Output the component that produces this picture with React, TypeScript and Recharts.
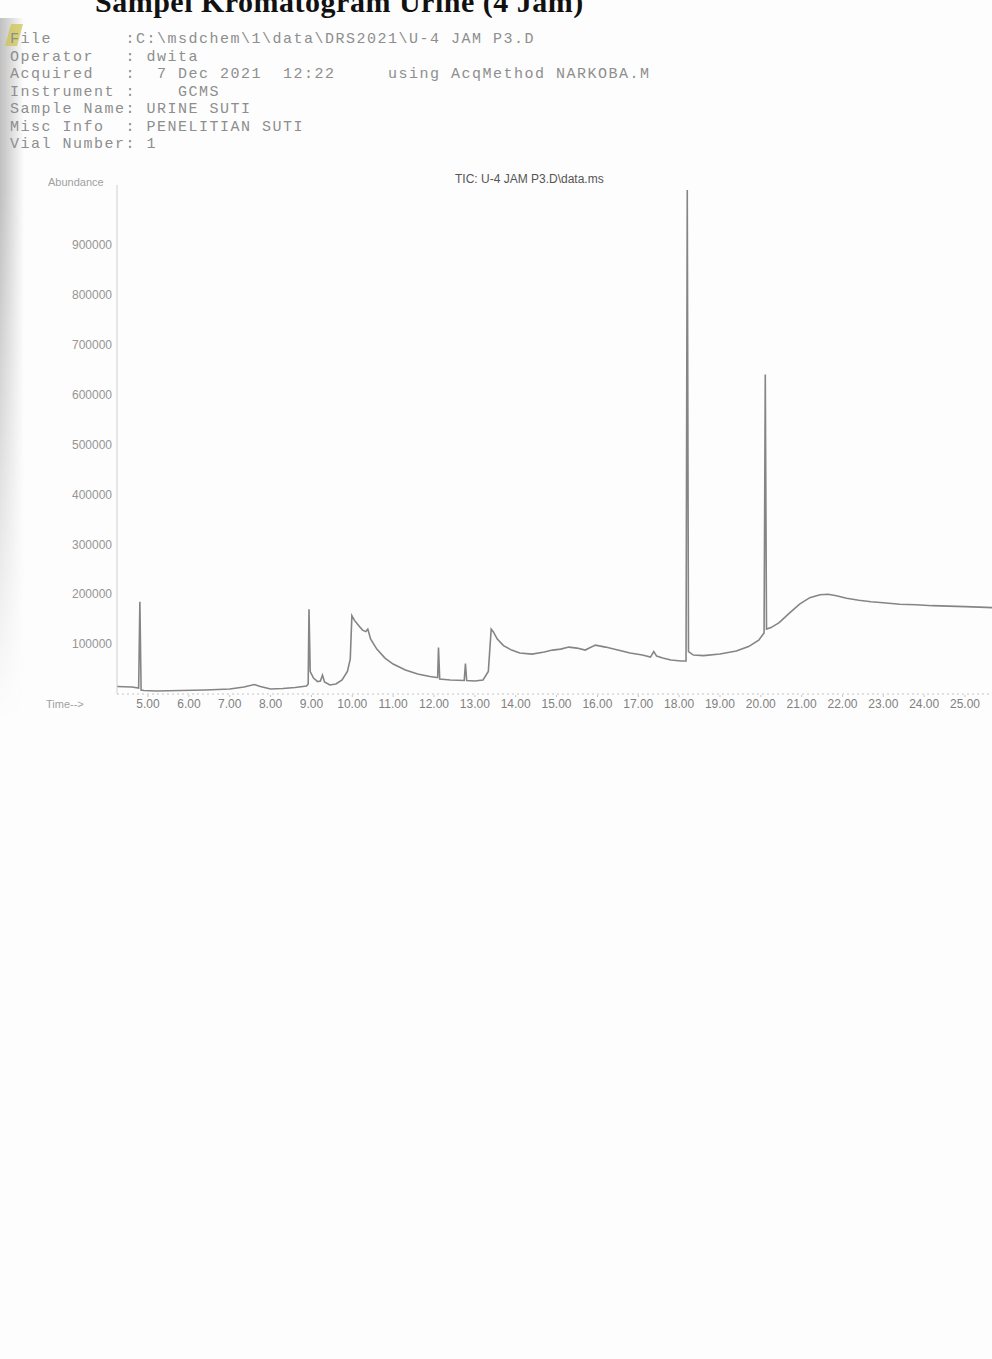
import { LineChart, Line, XAxis, YAxis } from "recharts";

// retention time (min) and abundance
const times = [
  4.24, 4.6, 4.77, 4.8, 4.83, 4.9,
  5.2, 5.8, 6.4, 7.0, 7.35, 7.6, 7.75, 8.0, 8.3, 8.6, 8.88,
  8.92, 8.94, 8.97, 9.05, 9.15, 9.22, 9.27, 9.32, 9.45, 9.6, 9.75, 9.88, 9.95,
  9.99, 10.05, 10.15, 10.25, 10.33, 10.38, 10.45, 10.6, 10.8, 11.0, 11.3, 11.6, 11.9, 12.07,
  12.09, 12.11, 12.14, 12.4, 12.74, 12.77, 12.8, 13.0, 13.2,
  13.33, 13.4, 13.45, 13.55, 13.7, 13.9, 14.1, 14.4, 14.7, 14.9, 15.1, 15.3, 15.5, 15.7, 15.95, 16.2, 16.5, 16.8, 17.1, 17.3, 17.38, 17.45, 17.6, 17.8, 18.05, 18.17,
  18.2, 18.23, 18.35, 18.6, 19.0, 19.4, 19.7, 19.95, 20.06,
  20.08, 20.11, 20.14, 20.25, 20.45, 20.7, 20.95, 21.2, 21.45, 21.65, 21.85, 22.1, 22.4, 22.7, 23.0, 23.4, 23.8, 24.2, 24.6, 25.0, 25.35, 25.66,
];

const abundance = [
  15000, 14000, 12000, 185000, 8000, 7000,
  6000, 7000, 8000, 10000, 14000, 19000, 15000, 10000, 11000, 13000, 16000,
  20000, 170000, 45000, 32000, 25000, 26000, 38000, 24000, 18000, 20000, 28000, 45000, 70000,
  157000, 148000, 138000, 128000, 125000, 130000, 110000, 90000, 72000, 60000, 48000, 40000, 35000, 33000,
  33000, 93000, 30000, 28000, 27000, 61000, 27000, 26000, 28000,
  45000, 130000, 125000, 110000, 97000, 88000, 82000, 80000, 84000, 88000, 90000, 94000, 92000, 88000, 98000, 94000, 88000, 82000, 78000, 74000, 85000, 76000, 72000, 68000, 66000, 66000,
  1010000, 85000, 78000, 77000, 80000, 86000, 95000, 108000, 120000,
  122000, 640000, 130000, 133000, 143000, 162000, 180000, 193000, 199000, 200000, 197000, 192000, 188000, 185000, 183000, 180000, 179000, 177000, 176000, 175000, 174000, 173000,
];

const timeTicks = [5, 6, 7, 8, 9, 10, 11, 12, 13, 14, 15, 16, 17, 18, 19, 20, 21, 22, 23, 24, 25];
const abundanceTicks = [100000, 200000, 300000, 400000, 500000, 600000, 700000, 800000, 900000];

const headerLines = [
  "File       :C:\\msdchem\\1\\data\\DRS2021\\U-4 JAM P3.D",
  "Operator   : dwita",
  "Acquired   :  7 Dec 2021  12:22     using AcqMethod NARKOBA.M",
  "Instrument :    GCMS",
  "Sample Name: URINE SUTI",
  "Misc Info  : PENELITIAN SUTI",
  "Vial Number: 1",
];

const data = times.map((t, i) => ({ t, a: abundance[i] }));

const grey = "#858585";

export default function App() {
  return (
    <div
      style={{
        position: "absolute",
        left: 0,
        top: 0,
        width: 992,
        height: 1359,
        background: "#fdfdfd",
        overflow: "hidden",
      }}
    >
      {/* shadow of the page edge */}
      <div
        style={{
          position: "absolute",
          left: 0,
          top: 18,
          width: 24,
          height: 700,
          background: "linear-gradient(to right, rgba(100,100,100,0.4), rgba(255,255,255,0))",
          WebkitMaskImage: "linear-gradient(to bottom, black 25%, transparent)",
          maskImage: "linear-gradient(to bottom, black 25%, transparent)",
        }}
      />
      <div
        style={{
          position: "absolute",
          left: 8,
          top: 24,
          width: 12,
          height: 22,
          background: "rgba(205,195,70,0.7)",
          transform: "skewX(-15deg)",
        }}
      />

      <div
        style={{
          position: "absolute",
          left: 95,
          top: -15,
          fontFamily: "'Liberation Serif', serif",
          fontWeight: "bold",
          fontSize: 30,
          letterSpacing: 0.5,
          color: "#111",
          whiteSpace: "pre",
        }}
      >
        Sampel Kromatogram Urine (4 Jam)
      </div>

      {headerLines.map((line, i) => (
        <div
          key={i}
          style={{
            position: "absolute",
            left: 10,
            top: 31 + i * 17.5,
            fontFamily: "'Liberation Mono', monospace",
            fontSize: 15,
            letterSpacing: 1.5,
            color: "#8e8e8e",
            whiteSpace: "pre",
          }}
        >
          {line}
        </div>
      ))}

      <div
        style={{
          position: "absolute",
          left: 48,
          top: 176,
          fontFamily: "'Liberation Sans', sans-serif",
          fontSize: 11,
          color: "#a0a0a0",
        }}
      >
        Abundance
      </div>
      <div
        style={{
          position: "absolute",
          left: 455,
          top: 172,
          fontFamily: "'Liberation Sans', sans-serif",
          fontSize: 12,
          color: "#555",
          whiteSpace: "pre",
        }}
      >
        TIC: U-4 JAM P3.D\data.ms
      </div>
      <div
        style={{
          position: "absolute",
          left: 46,
          top: 698,
          fontFamily: "'Liberation Sans', sans-serif",
          fontSize: 11,
          color: "#a0a0a0",
        }}
      >
        Time--&gt;
      </div>

      <div style={{ position: "absolute", left: 0, top: 0 }}>
        <LineChart
          width={992}
          height={760}
          data={data}
          margin={{ top: 185, right: 0, left: 57, bottom: 36 }}
        >
          <XAxis
            dataKey="t"
            type="number"
            domain={[4.24, 25.66]}
            ticks={timeTicks}
            tickFormatter={(v: number) => v.toFixed(2)}
            allowDataOverflow
            stroke="#c4c4c4"
            strokeDasharray="2 3"
            tickSize={3}
            tickMargin={2}
            tick={{ fontSize: 12, fill: "#808080", fontFamily: "'Liberation Sans', sans-serif" }}
            height={30}
          />
          <YAxis
            type="number"
            domain={[0, 1020000]}
            ticks={abundanceTicks}
            allowDataOverflow
            width={60}
            stroke="#d0d0d0"
            tickLine={false}
            tickSize={3}
            tickMargin={2}
            tick={{ fontSize: 12, fill: "#959595", fontFamily: "'Liberation Sans', sans-serif" }}
          />
          <Line
            dataKey="a"
            type="linear"
            stroke={grey}
            strokeWidth={1.6}
            dot={false}
            isAnimationActive={false}
          />
        </LineChart>
      </div>
    </div>
  );
}
